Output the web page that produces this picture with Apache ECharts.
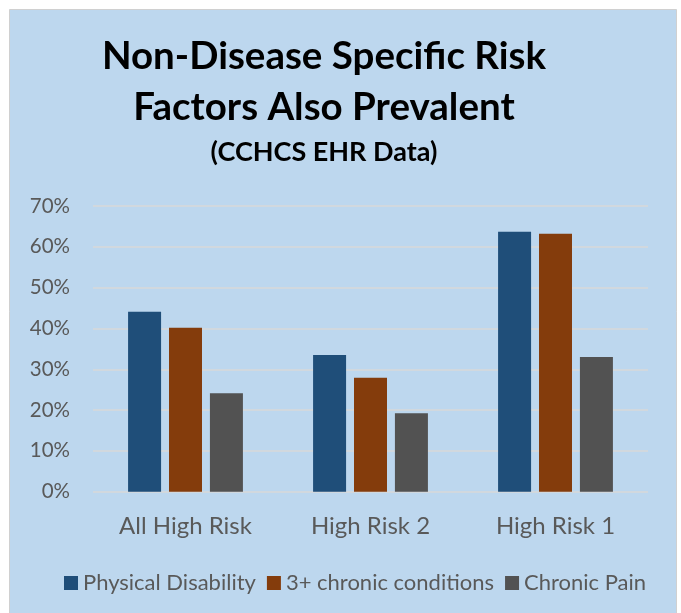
<!DOCTYPE html>
<html>
<head>
<meta charset="utf-8">
<script src="https://cdn.jsdelivr.net/npm/echarts@6/dist/echarts.min.js"></script>
<style>
html,body{margin:0;padding:0;background:#ffffff;}
#c{width:681px;height:613px;}
</style>
</head>
<body>
<div id="c"></div>
<script>
const categories = ['All High Risk', 'High Risk 2', 'High Risk 1'];
const seriesNames = ['Physical Disability', '3+ chronic conditions', 'Chronic Pain'];
const physicalDisability = [44.1, 33.5, 63.7];
const chronicConditions = [40.2, 27.9, 63.2];
const chronicPain = [24.1, 19.2, 33.0];
const yTicks = [0, 10, 20, 30, 40, 50, 60, 70];
const colors = ['#1F4E79', '#843C0C', '#525252'];
const FONT = 'Lato';

const chart = echarts.init(document.getElementById('c'), null, {renderer: 'canvas'});
const values = [physicalDisability, chronicConditions, chronicPain];
chart.setOption({
  animation: false,
  backgroundColor: '#ffffff',
  graphic: [{
    type: 'rect', z: -10, silent: true,
    shape: {x: 9.5, y: 9.5, width: 667, height: 610},
    style: {fill: '#BDD7EE', stroke: '#D0D0D0', lineWidth: 1}
  }],
  title: [{
    text: 'Non-Disease Specific Risk\nFactors Also Prevalent',
    left: 319, top: 26, textAlign: 'center',
    textStyle: {fontFamily: FONT, fontWeight: 'bold', fontSize: 38.5, lineHeight: 51, color: '#000000'}
  }, {
    text: '(CCHCS EHR Data)',
    left: 319, top: 134, textAlign: 'center',
    textStyle: {fontFamily: FONT, fontWeight: 'bold', fontSize: 27, color: '#000000'}
  }],
  legend: {
    data: seriesNames,
    left: 59, top: 567,
    icon: 'rect', itemWidth: 14, itemHeight: 14, itemGap: 11,
    textStyle: {fontFamily: FONT, fontSize: 22, color: '#595959'}
  },
  grid: {left: 93, right: 33, top: 206, bottom: 121.3},
  xAxis: {
    type: 'category', data: categories,
    axisLine: {show: false}, axisTick: {show: false},
    axisLabel: {fontFamily: FONT, fontSize: 24, color: '#595959', margin: 23}
  },
  yAxis: {
    type: 'value', min: 0, max: 70, interval: 10,
    axisLine: {show: false}, axisTick: {show: false},
    axisLabel: {fontFamily: FONT, fontSize: 20.5, color: '#595959', margin: 23,
      formatter: v => (yTicks.includes(v) ? v + '%' : '')},
    splitLine: {lineStyle: {color: '#D9D9D9', width: 1.5}}
  },
  series: seriesNames.map((n, i) => ({
    name: n, type: 'bar', data: values[i],
    barWidth: 33, barGap: '24%',
    itemStyle: {color: colors[i]}
  }))
});
</script>
</body>
</html>
